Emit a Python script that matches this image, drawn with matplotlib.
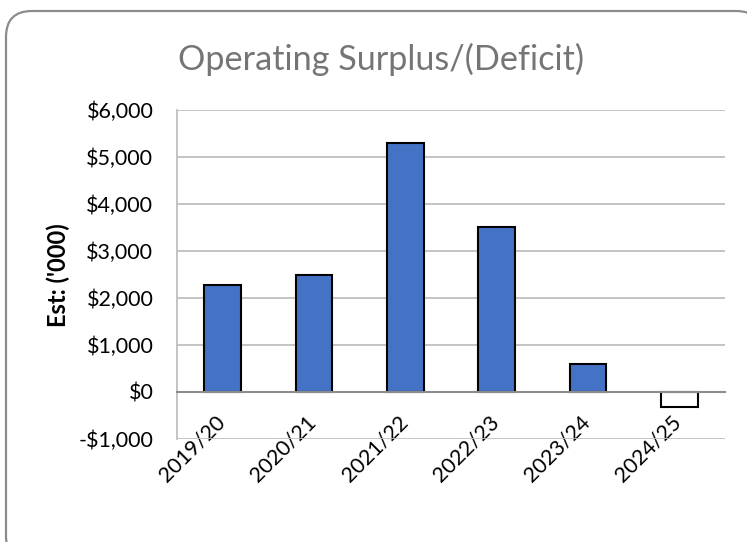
import matplotlib.pyplot as plt
from matplotlib.patches import FancyBboxPatch
from matplotlib.ticker import FuncFormatter
from matplotlib.transforms import ScaledTranslation

years = ['2019/20', '2020/21', '2021/22', '2022/23', '2023/24', '2024/25']
surplus = [2270, 2500, 5300, 3510, 600, -320]

plt.rcParams['font.family'] = ['Lato', 'DejaVu Sans']

W, H = 747, 542
fig = plt.figure(figsize=(W / 100, H / 100), dpi=100)
ax = fig.add_axes([177 / W, 1 - 439 / H, 548 / W, 329 / H])

# rounded chart border, running off the bottom and right edges
border = FancyBboxPatch((6, -20), 756, H - 11 + 20,
                        boxstyle='round,pad=0,rounding_size=26',
                        transform=None, facecolor='white',
                        edgecolor='#8c8c8c', linewidth=1.6, zorder=-10)
fig.patches.append(border)

colors = ['#4472C4' if v >= 0 else 'white' for v in surplus]
x = range(len(years))
ax.bar(x, surplus, width=0.4, color=colors, edgecolor='black', linewidth=1.5, zorder=3)

ax.set_ylim(-1000, 6000)
ax.set_xlim(-0.5, len(years) - 0.5)
ax.set_yticks(range(-1000, 7000, 1000))
ax.yaxis.set_major_formatter(FuncFormatter(
    lambda v, p: f'-${abs(v):,.0f}' if v < 0 else f'${v:,.0f}'))
ax.grid(axis='y', color='#bfbfbf', linewidth=1.3, zorder=0)

# category axis sits on the zero line
ax.spines['bottom'].set_position(('data', 0))
ax.spines['bottom'].set_color('#8c8c8c')
ax.spines['bottom'].set_linewidth(1.5)
ax.spines['bottom'].set_zorder(4)
for s in ['top', 'right']:
    ax.spines[s].set_visible(False)
ax.spines['left'].set_color('#bfbfbf')
ax.spines['left'].set_linewidth(1.3)
ax.tick_params(axis='both', length=0, colors='black')
ax.tick_params(axis='y', labelsize=15.5, pad=17)
ax.set_xticks(list(x))
ax.set_xticklabels(years, rotation=45, ha='right', va='top', rotation_mode='anchor')
ax.tick_params(axis='x', labelsize=15.5, pad=14.5)
shift = ScaledTranslation(-8 / 100, 0, fig.dpi_scale_trans)
for lbl in ax.get_xticklabels():
    lbl.set_transform(lbl.get_transform() + shift)
ax.patch.set_alpha(0)

ax.set_ylabel("Est: ('000)", fontsize=17, fontweight='bold', va='center')
ax.yaxis.set_label_coords(58 / W, 1 - 275 / H, transform=fig.transFigure)
fig.text(381 / W, 1 - 70 / H, 'Operating Surplus/(Deficit)', ha='center', va='baseline',
         fontsize=24.7, color='#757575')

fig.savefig('out.png', dpi=100)
